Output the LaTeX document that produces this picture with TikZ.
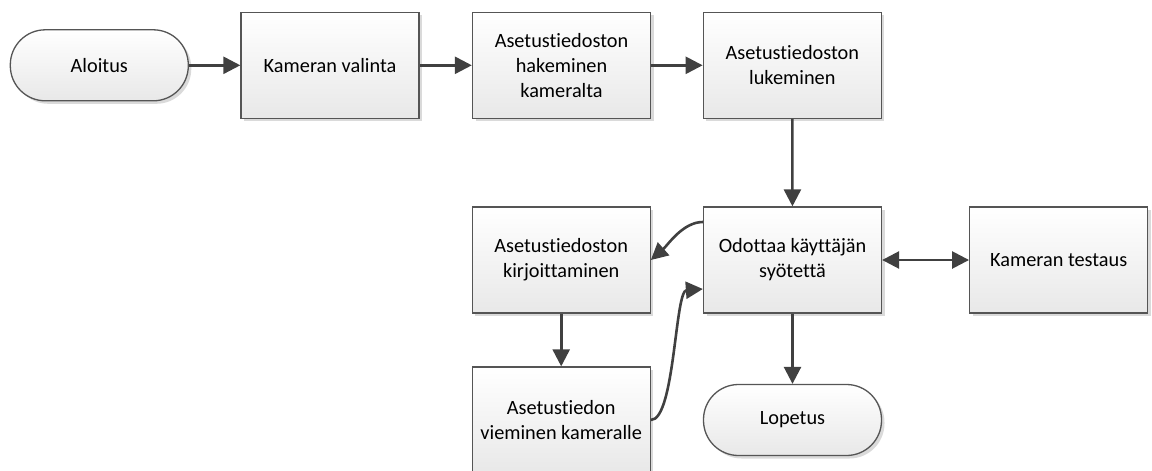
\documentclass[tikz,border=0pt]{standalone}
\usepackage{fontspec}
\setmainfont{Carlito}[RawFeature={-liga;-clig;-dlig;-calt}]
\usetikzlibrary{arrows.meta,shadows}
\definecolor{ln}{HTML}{404040}
\definecolor{bd}{HTML}{555555}
\definecolor{sh}{HTML}{DADADA}
\begin{document}
\begin{tikzpicture}[x=1pt,y=-1pt,
 box/.style={draw=bd, line width=1.3pt, top color=white, bottom color=black!9,
   minimum width=178pt, minimum height=106pt, align=center, inner sep=0pt,
   font=\fontsize{20.3}{25}\selectfont,
   drop shadow={shadow xshift=3pt,shadow yshift=-3pt,fill=sh,opacity=1}},
 term/.style={box, rounded corners=35pt, minimum height=71pt},
 tip/.tip={Triangle[length=17pt,width=17pt]},
 arr/.style={draw=ln, line width=2.6pt, -tip},
 darr/.style={draw=ln, line width=2.6pt, tip-tip}
]
\path[use as bounding box, clip] (0,0) rectangle (1152,471);
\node[term] (aloitus) at (99.3,65.3) {Aloitus};
\node[box] (kameran) at (330,65.3) {Kameran valinta};
\node[box] (hakeminen) at (561.5,65.3) {Asetustiedoston\\hakeminen\\kameralta};
\node[box] (lukeminen) at (792.3,65.3) {Asetustiedoston\\lukeminen};
\node[box] (odottaa) at (792.5,260) {Odottaa käyttäjän\\syötettä};
\node[box] (testaus) at (1058.7,260) {Kameran testaus};
\node[box] (kirjoittaminen) at (561.2,260) {Asetustiedoston\\kirjoittaminen};
\node[box] (vieminen) at (561.2,420) {Asetustiedon\\vieminen kameralle};
\node[term] (lopetus) at (792.5,420) {Lopetus};

\draw[arr] (aloitus) -- (kameran);
\draw[arr] (kameran) -- (hakeminen);
\draw[arr] (hakeminen) -- (lukeminen);
\draw[arr] (lukeminen) -- (odottaa);
\draw[darr] (odottaa) -- (testaus);
\draw[arr] (kirjoittaminen) -- (vieminen);
\draw[arr] (odottaa) -- (lopetus);
\draw[arr] ([yshift=38pt]odottaa.west) .. controls ([yshift=38pt,xshift=-20pt]odottaa.west) and ([yshift=15pt,xshift=17pt]kirjoittaminen.east) .. (kirjoittaminen.east);
\draw[arr] (vieminen.east) .. controls ([xshift=24pt]vieminen.east) and ([xshift=-28pt,yshift=-31pt]odottaa.west) .. ([yshift=-29pt]odottaa.west);
\end{tikzpicture}
\end{document}
